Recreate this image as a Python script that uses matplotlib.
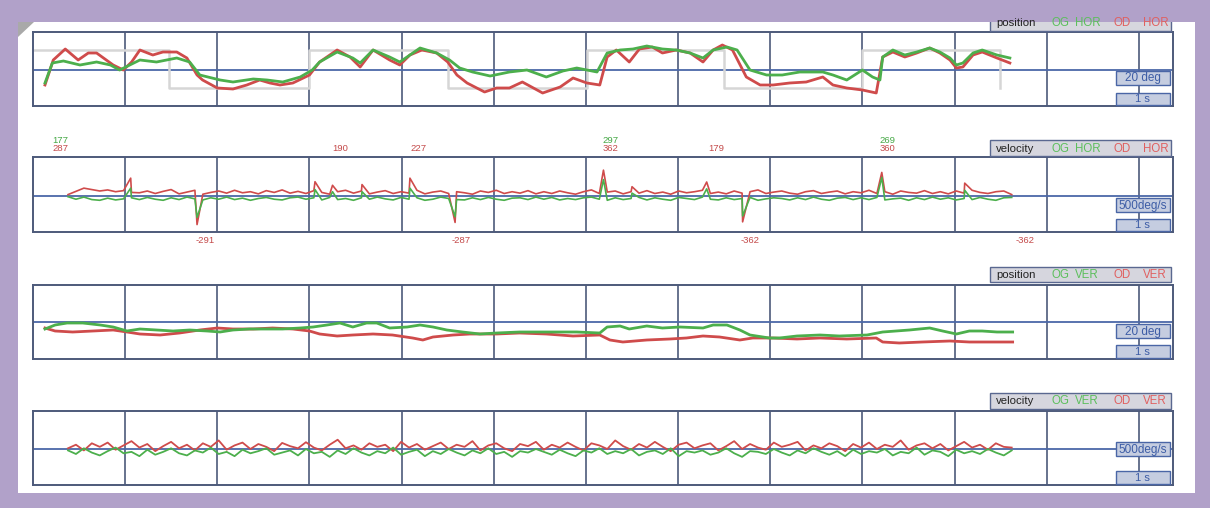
import numpy as np
import matplotlib
matplotlib.use("Agg")
import matplotlib.pyplot as plt
from matplotlib.patches import Rectangle, Polygon

plt.rcParams['font.family'] = ['Liberation Sans', 'DejaVu Sans']

W, H = 1210, 508
RED = '#cf4b4b'
GREEN = '#4caf4c'
GRID = '#4d5a7a'
MID = '#4b68a8'
TARGET = '#d6d6d6'
PURPLE = '#b1a1c9'
SECONDS = 12.37  # visible time span, 1 grid cell = 1 s

# horizontal position (s, deg)
hpos_red_t = [0.13, 0.22, 0.35, 0.49, 0.60, 0.69, 0.87, 0.98, 1.07, 1.16,
              1.30, 1.41, 1.56, 1.67, 1.78, 1.84, 2.00, 2.17, 2.32, 2.46,
              2.57, 2.68, 2.82, 3.00, 3.11, 3.30, 3.44, 3.55, 3.69, 3.87,
              3.98, 4.09, 4.22, 4.38, 4.50, 4.60, 4.71, 4.90, 5.03, 5.17,
              5.31, 5.53, 5.72, 5.86, 6.01, 6.15, 6.23, 6.33, 6.47, 6.58,
              6.72, 6.83, 6.98, 7.13, 7.27, 7.38, 7.48, 7.59, 7.74, 7.89,
              8.03, 8.21, 8.39, 8.57, 8.68, 8.83, 9.00, 9.15, 9.22, 9.33,
              9.46, 9.59, 9.73, 9.84, 9.95, 10.02, 10.09, 10.20, 10.30, 10.46,
              10.60]
hpos_red = [-15, 10, 21, 10, 17, 17, 5, 0, 8, 20,
            15, 18, 18, 12, -5, -10, -18, -19, -15, -10,
            -13, -15, -13, -5, 8, 20, 13, 3, 20, 10,
            5, 15, 20, 17, 8, -5, -13, -22, -18, -18,
            -12, -23, -17, -8, -13, -15, 13, 20, 8, 21,
            23, 17, 20, 17, 8, 20, 25, 20, -7, -15,
            -15, -13, -12, -7, -15, -18, -20, -23, 13, 18,
            13, 17, 22, 17, 10, 2, 3, 15, 18, 12,
            7]
hpos_green_t = [0.13, 0.21, 0.33, 0.51, 0.69, 0.84, 0.94, 1.05, 1.16, 1.34,
                1.56, 1.70, 1.81, 2.03, 2.17, 2.39, 2.54, 2.71, 2.90, 3.03,
                3.11, 3.30, 3.47, 3.55, 3.69, 3.87, 3.98, 4.20, 4.38, 4.52,
                4.63, 4.77, 4.96, 5.17, 5.36, 5.57, 5.75, 5.90, 6.12, 6.23,
                6.37, 6.51, 6.66, 6.83, 6.98, 7.13, 7.27, 7.38, 7.53, 7.64,
                7.78, 7.96, 8.13, 8.32, 8.57, 8.68, 8.83, 9.00, 9.11, 9.19,
                9.22, 9.33, 9.46, 9.59, 9.73, 9.84, 9.95, 10.02, 10.09, 10.20,
                10.30, 10.46, 10.60]
hpos_green = [-13, 7, 9, 5, 8, 5, 0, 5, 10, 8,
              12, 8, -5, -10, -12, -9, -10, -12, -7, 0,
              8, 18, 12, 7, 20, 13, 8, 22, 17, 10,
              2, -2, -6, -2, 0, -7, -1, 2, -2, 17,
              20, 21, 24, 21, 20, 17, 12, 20, 23, 20,
              0, -5, -5, -2, -2, -5, -10, 0, -7, -10,
              13, 20, 15, 18, 22, 18, 12, 5, 7, 17,
              20, 15, 12]

# stimulus target steps
target_t = [0, 1.48, 3.00, 4.50, 6.01, 7.50, 9.00, 10.49]
target_deg = [20, -18, 20, -18, 20, -18, 20, -18]

# vertical position (s, deg)
vpos_green_t = [0.13, 0.24, 0.37, 0.54, 0.73, 0.87, 1.02, 1.16, 1.34, 1.52,
                1.70, 1.89, 2.03, 2.17, 2.35, 2.54, 2.71, 2.90, 3.04, 3.19,
                3.33, 3.47, 3.62, 3.73, 3.87, 4.06, 4.20, 4.34, 4.49, 4.66,
                4.85, 5.03, 5.28, 5.47, 5.72, 5.90, 6.15, 6.23, 6.37, 6.47,
                6.66, 6.83, 7.02, 7.27, 7.38, 7.53, 7.67, 7.78, 7.99, 8.10,
                8.29, 8.54, 8.75, 9.05, 9.22, 9.51, 9.73, 9.87, 10.02, 10.16,
                10.30, 10.46, 10.63]
vpos_green = [-7, -3, -1, -1, -3, -5, -9, -7, -8, -9,
              -8, -9, -10, -8, -7, -7, -7, -6, -5, -3,
              -1, -5, -1, -1, -6, -5, -3, -5, -8, -10,
              -12, -11, -10, -10, -10, -10, -11, -5, -4, -7,
              -4, -6, -5, -6, -3, -3, -8, -13, -16, -16,
              -14, -13, -14, -13, -10, -8, -6, -9, -12, -9,
              -9, -10, -10]
vpos_red_t = [0.13, 0.24, 0.43, 0.65, 0.87, 1.02, 1.16, 1.38, 1.59, 1.81,
              2.00, 2.17, 2.39, 2.60, 2.82, 3.00, 3.11, 3.30, 3.47, 3.69,
              3.90, 4.12, 4.23, 4.34, 4.56, 4.74, 5.03, 5.28, 5.57, 5.86,
              6.15, 6.26, 6.40, 6.66, 6.91, 7.09, 7.27, 7.45, 7.67, 7.81,
              8.03, 8.29, 8.54, 8.83, 9.15, 9.22, 9.40, 9.65, 9.95, 10.16,
              10.38, 10.63]
vpos_red = [-6, -9, -10, -9, -8, -10, -12, -13, -11, -8,
            -6, -7, -7, -6, -7, -9, -12, -14, -13, -12,
            -13, -16, -18, -15, -13, -12, -12, -11, -12, -14,
            -13, -18, -20, -18, -17, -16, -14, -15, -18, -16,
            -16, -17, -16, -17, -16, -20, -21, -20, -19, -20,
            -20, -20]

# velocity samples (deg/s), 120 samples between 0.38 s and 10.62 s
vel_t = np.linspace(0.38, 10.62, 120)
hvel_red = [20, 65, 110, 90, 70, 85, 60, 75, 50, 45,
            70, 35, 65, 90, 30, 55, 80, 25, 50, 70,
            40, 80, 45, 60, 30, 75, 50, 85, 40, 65,
            35, 75, 50, 25, 60, 80, 40, 70, 30, 55,
            75, 35, 60, 40, 80, 30, 55, 70, 35, 60,
            45, 25, 70, 50, 80, 35, 60, 40, 75, 30,
            60, 35, 70, 45, 25, 60, 85, 35, 55, 70,
            30, 60, 40, 75, 35, 55, 25, 70, 45, 60,
            80, 35, 55, 30, 70, 40, 60, 85, 35, 55,
            70, 40, 25, 60, 75, 35, 55, 70, 30, 60,
            45, 80, 35, 60, 25, 70, 50, 40, 75, 35,
            60, 30, 70, 40, 80, 50, 35, 60, 70, 20]
hvel_green = [-10, -45, -15, -50, -60, -30, -55, -40, -25, -50,
              -20, -45, -60, -25, -50, -15, -40, -55, -25, -45,
              -15, -50, -30, -60, -35, -20, -45, -55, -25, -15,
              -45, -25, -55, -20, -50, -35, -60, -25, -45, -15,
              -40, -55, -20, -45, -25, -60, -45, -15, -35, -50,
              -55, -25, -50, -20, -45, -60, -30, -25, -50, -15,
              -45, -20, -55, -35, -50, -25, -15, -45, -60, -25,
              -50, -35, -20, -55, -25, -45, -60, -20, -35, -50,
              -15, -45, -55, -25, -50, -35, -20, -60, -40, -25,
              -35, -55, -25, -50, -15, -45, -60, -30, -20, -50,
              -25, -50, -20, -55, -40, -30, -60, -25, -50, -15,
              -45, -25, -55, -35, -50, -20, -45, -60, -25, -20]
# saccade peaks in horizontal velocity
spike_t = [1.06, 1.78, 3.06, 3.25, 3.57, 4.09, 4.58, 6.19, 6.50, 7.31, 7.70, 9.21, 10.11]
spike_red = [250, -400, 200, 150, 160, 250, -370, 362, 130, 196, -362, 330, 180]
spike_green = [110, -300, 90, 60, 60, 110, -290, 230, 40, 100, -280, 260, 80]

vvel_red = [10, 60, -20, 80, 30, 90, -10, 50, 110, 20,
            70, -30, 40, 100, 10, 60, -20, 80, 30, 120,
            -10, 50, 90, 0, 70, 30, -30, 85, 40, 10,
            95, 20, -20, 60, 130, 10, 50, -10, 80, 30,
            60, -30, 100, 20, 70, -10, 40, 90, 0, 60,
            30, 110, -20, 50, 80, 10, -30, 70, 40, 100,
            -10, 60, 20, 90, 30, -20, 80, 50, 0, 120,
            40, -10, 70, 20, 100, 30, -30, 60, 90, 10,
            50, 80, -20, 40, 110, 0, 70, 20, -10, 90,
            30, 60, 100, -20, 50, 10, 80, 40, -30, 70,
            20, 90, 0, 60, 30, 120, -10, 50, 80, 10,
            70, -20, 40, 100, 20, 60, -10, 80, 30, 20]
vvel_green = [-20, -70, 10, -50, -90, -30, 20, -60, -40, -100,
              -10, -80, -40, 10, -60, -90, -20, -50, 20, -70,
              -40, -100, -10, -60, -30, 10, -80, -50, -20, -90,
              0, -60, -40, -110, -20, -70, 10, -50, -90, -30,
              -60, 20, -80, -40, -10, -100, -30, -70, 0, -50,
              -90, -20, -60, 10, -70, -40, -110, -30, -50, 0,
              -40, -80, -10, -60, -100, -20, -50, 10, -70, -30,
              -60, 0, -90, -40, -20, -70, 10, -100, -30, -50,
              -20, -80, -50, 10, -60, -110, -30, -40, -70, 0,
              -50, -90, -20, -60, 10, -40, -80, -30, -100, -10,
              -70, -30, -50, 0, -90, -40, -60, 20, -80, -20,
              -40, -100, -10, -60, -30, -70, 0, -50, -90, -20]

# peak value labels of the horizontal velocity
max_label_t = [0.30, 3.33, 4.18, 6.27, 7.41, 9.27]
max_label_red = ['287', '190', '227', '362', '179', '360']
max_label_green = ['177', '', '', '297', '', '269']
min_label_t = [1.87, 4.65, 7.78, 10.76]
min_label_red = ['-291', '-287', '-362', '-362']


def px_axes(fig, x0, y0, x1, y1):
    return fig.add_axes([x0 / W, 1 - y1 / H, (x1 - x0) / W, (y1 - y0) / H])


def style_panel(ax, ylim):
    ax.set_xlim(0, SECONDS)
    ax.set_ylim(*ylim)
    ax.set_xticks([])
    ax.set_yticks([])
    for s in ax.spines.values():
        s.set_color(GRID)
        s.set_linewidth(1.4)
    for k in range(1, 13):
        ax.axvline(k, color=GRID, lw=1.2, zorder=1)
    ax.axhline(0, color=MID, lw=1.3, zorder=1)


def with_spikes(base, peaks):
    t = np.concatenate([vel_t, spike_t])
    v = np.concatenate([base, peaks])
    order = np.argsort(t)
    return t[order], v[order]


fig = plt.figure(figsize=(W / 100, H / 100), dpi=100)
fig.patch.set_facecolor('white')

ax1 = px_axes(fig, 33, 32, 1173, 106)
ax2 = px_axes(fig, 33, 157, 1173, 232)
ax3 = px_axes(fig, 33, 285, 1173, 359)
ax4 = px_axes(fig, 33, 411, 1173, 485)

style_panel(ax1, (-36, 38))
style_panel(ax2, (-504, 546))
style_panel(ax3, (-37, 37))
style_panel(ax4, (-504, 532))

# panel 1: horizontal position with target
ax1.step(target_t + [10.49], target_deg + [-18], where='post', color=TARGET, lw=1.8, zorder=2)
ax1.plot(hpos_red_t, hpos_red, color=RED, lw=2.0, zorder=3)
ax1.plot(hpos_green_t, hpos_green, color=GREEN, lw=2.0, zorder=4)

# panel 2: horizontal velocity
tr, vr = with_spikes(hvel_red, spike_red)
tg, vg = with_spikes(hvel_green, spike_green)
ax2.plot(tr, vr, color=RED, lw=1.2, zorder=3)
ax2.plot(tg, vg, color=GREEN, lw=1.2, zorder=4)
tx = ax2.get_xaxis_transform()
for t, r, g in zip(max_label_t, max_label_red, max_label_green):
    ax2.text(t, 1.11, r, color='#c44a4a', fontsize=6.8, ha='center', va='center', transform=tx, clip_on=False)
    if g:
        ax2.text(t, 1.22, g, color='#45a845', fontsize=6.8, ha='center', va='center', transform=tx, clip_on=False)
for t, r in zip(min_label_t, min_label_red):
    ax2.text(t, -0.11, r, color='#c44a4a', fontsize=6.8, ha='center', va='center', transform=tx, clip_on=False)

# panel 3: vertical position
ax3.plot(vpos_red_t, vpos_red, color=RED, lw=2.0, zorder=3)
ax3.plot(vpos_green_t, vpos_green, color=GREEN, lw=2.0, zorder=4)

# panel 4: vertical velocity
ax4.plot(vel_t, vvel_red, color=RED, lw=1.3, zorder=3)
ax4.plot(vel_t, vvel_green, color=GREEN, lw=1.3, zorder=4)

# overlay in pixel coordinates for the recording-software decorations
ov = fig.add_axes([0, 0, 1, 1], zorder=10)
ov.set_xlim(0, W)
ov.set_ylim(H, 0)
ov.axis('off')
ov.patch.set_alpha(0)

legends = [(14, 31, 'position', 'HOR'), (140, 156, 'velocity', 'HOR'),
           (267, 282, 'position', 'VER'), (393, 409, 'velocity', 'VER')]
for y0, y1, kind, axis_name in legends:
    ov.add_patch(Rectangle((990, y0), 181, y1 - y0, facecolor='#d6d6de', edgecolor='#5a6890', lw=1))
    yc = (y0 + y1) / 2 + 0.5
    ov.text(996, yc, kind, fontsize=8.2, color='#222222', va='center', ha='left')
    ov.text(1052, yc, 'OG', fontsize=8.3, color='#5cbf5c', va='center', ha='left')
    ov.text(1075, yc, axis_name, fontsize=8.3, color='#5cbf5c', va='center', ha='left')
    ov.text(1113, yc, 'OD', fontsize=8.3, color='#e06060', va='center', ha='left')
    ov.text(1143, yc, axis_name, fontsize=8.3, color='#e06060', va='center', ha='left')

scales = [((71, 85), (93, 105), '20 deg'), ((198, 212), (219, 231), '500deg/s'),
          ((324, 338), (345, 358), '20 deg'), ((442, 456), (471, 484), '500deg/s')]
for (a0, a1), (b0, b1), label in scales:
    r1 = Rectangle((1116, a0), 54, a1 - a0, facecolor='#c5cde0', edgecolor='#4a66a6', lw=1)
    r2 = Rectangle((1116, b0), 54, b1 - b0, facecolor='#c5cde0', edgecolor='#4a66a6', lw=1)
    ov.add_patch(r1)
    ov.add_patch(r2)
    if label == '20 deg':
        t1 = ov.text(1143, (a0 + a1) / 2 + 0.5, label, fontsize=8.5, color='#3d5da6', va='center', ha='center')
    else:
        t1 = ov.text(1118, (a0 + a1) / 2 + 0.5, label, fontsize=8.5, color='#3d5da6', va='center', ha='left')
    t1.set_clip_path(r1)
    ov.text(1142, (b0 + b1) / 2 + 0.5, '1 s', fontsize=8, color='#3d5da6', va='center', ha='center')

# purple frame and page curl
for x, y, w, h in [(0, 0, W, 22), (0, 0, 18, H), (1195, 0, 15, H), (0, 493, W, 15)]:
    ov.add_patch(Rectangle((x, y), w, h, facecolor=PURPLE, edgecolor='none'))
ov.add_patch(Polygon([(18, 22), (34, 22), (18, 37)], closed=True, facecolor='#a9a9a9', edgecolor='none'))

fig.savefig('out.png', dpi=100, facecolor=fig.get_facecolor())
